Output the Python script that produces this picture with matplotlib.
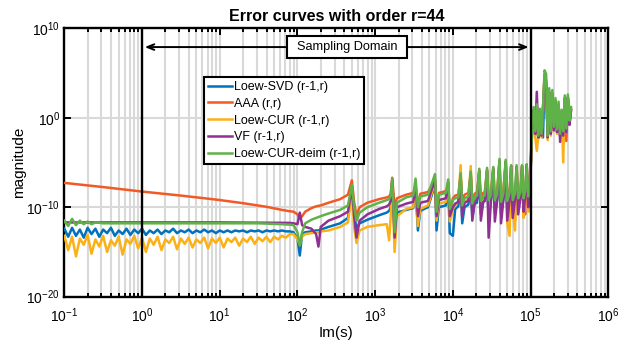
import numpy as np
import matplotlib.pyplot as plt
from matplotlib.patches import Rectangle
from matplotlib.ticker import LogLocator, NullLocator, NullFormatter

plt.rcParams['font.family'] = ['Liberation Sans', 'DejaVu Sans']

# all curves are given as log10(Im(s)) and log10(magnitude)

# low band, noisy part of Loew-SVD and Loew-CUR
noisy_lf = [-1.00, -0.95, -0.90, -0.85, -0.80, -0.75, -0.70, -0.65, -0.60, -0.55,
            -0.50, -0.45, -0.40, -0.35, -0.30, -0.25, -0.20, -0.15, -0.10, -0.05,
            0.00, 0.05, 0.10, 0.15, 0.20, 0.25, 0.30, 0.35, 0.40, 0.45,
            0.50, 0.55, 0.60, 0.65, 0.70, 0.75, 0.80, 0.85, 0.90, 0.95,
            1.00, 1.05, 1.10, 1.15, 1.20, 1.25, 1.30, 1.35, 1.40, 1.45,
            1.50, 1.55, 1.60, 1.65, 1.70, 1.75, 1.80, 1.85, 1.90]
svd_low = [-12.4, -13.3, -12.3, -13.2, -12.5, -13.4, -12.3, -13.0, -12.4, -13.3,
           -12.5, -12.9, -12.3, -13.2, -12.6, -13.0, -12.4, -13.1, -12.5, -12.9,
           -12.4, -13.1, -12.6, -12.9, -12.5, -13.0, -12.6, -12.8, -12.4, -12.9,
           -12.6, -12.8, -12.5, -12.9, -12.6, -12.8, -12.5, -12.8, -12.6, -12.9,
           -12.6, -12.8, -12.6, -12.8, -12.6, -12.7, -12.6, -12.8, -12.6, -12.7,
           -12.6, -12.8, -12.6, -12.7, -12.6, -12.7, -12.6, -12.7, -12.7]
cur_low = [-13.2, -14.8, -13.3, -15.5, -13.5, -14.2, -13.1, -15.2, -13.6, -14.4,
           -13.2, -15.0, -13.7, -14.3, -13.3, -15.3, -13.6, -14.1, -13.2, -14.6,
           -13.4, -15.0, -13.5, -14.2, -13.3, -14.8, -13.6, -14.0, -13.3, -14.7,
           -13.5, -14.1, -13.4, -14.5, -13.6, -14.0, -13.4, -14.6, -13.5, -14.0,
           -13.4, -14.5, -13.5, -13.9, -13.4, -14.3, -13.5, -13.9, -13.3, -14.1,
           -13.4, -13.8, -13.3, -13.9, -13.3, -13.6, -13.2, -13.4, -13.0]

# low band, smooth curves
aaa_low_lf = [-1.0, -0.5, 0.0, 0.5, 0.875, 1.0, 1.3, 1.6, 1.8, 1.9]
aaa_low = [-7.28, -7.75, -8.25, -8.7, -9.07, -9.2, -9.55, -9.95, -10.3, -10.45]
vf_low_lf = [-1.0, 0.0, 1.0, 1.9]
vf_low = [-11.7, -11.7, -11.7, -11.75]
deim_low_lf = [-1.0, -0.95, -0.9, -0.85, -0.8, -0.75, -0.7, -0.65, -0.6, -0.5,
               0.0, 1.0, 1.5, 1.8, 1.9]
deim_low = [-11.5, -12.1, -11.3, -12.0, -11.5, -11.9, -11.6, -11.9, -11.7, -11.8,
            -11.8, -11.8, -11.8, -11.9, -11.95]

# resonance part, shared grid
mid_lf = [1.95, 2.00, 2.03, 2.06, 2.10, 2.18, 2.24, 2.27, 2.30, 2.40,
          2.55, 2.65, 2.70, 2.73, 2.76, 2.80, 2.90, 3.05, 3.15, 3.18,
          3.20, 3.22, 3.25, 3.28, 3.40, 3.49, 3.52, 3.55, 3.58, 3.68,
          3.77, 3.79, 3.82, 3.91, 3.94, 3.96, 4.00, 4.03, 4.07, 4.10,
          4.12, 4.15, 4.20, 4.23, 4.25, 4.28, 4.31, 4.34, 4.36, 4.39,
          4.41, 4.44, 4.46, 4.49, 4.52, 4.54, 4.57, 4.60, 4.62, 4.65,
          4.68, 4.70, 4.73, 4.75, 4.77, 4.80, 4.82, 4.84, 4.87, 4.89,
          4.91, 4.93, 4.95, 4.97, 4.99]
svd_mid = [-12.8, -13.5, -15.4, -13.0, -12.8, -12.7, -12.6, -12.6, -12.5, -12.2,
           -11.8, -11.2, -8.0, -11.0, -12.3, -11.8, -11.4, -10.9, -10.6, -10.4,
           -10.0, -7.2, -11.5, -10.6, -10.3, -10.1, -8.0, -12.6, -10.4, -10.0,
           -7.5, -12.6, -10.0, -9.8, -7.6, -12.9, -13.2, -10.2, -9.9, -7.5,
           -11.8, -10.0, -9.7, -7.3, -11.2, -9.6, -9.5, -7.0, -10.8, -9.4,
           -9.3, -6.8, -11.0, -9.2, -6.7, -10.6, -9.1, -6.2, -10.8, -9.0,
           -6.0, -10.4, -9.0, -6.4, -10.2, -9.0, -6.6, -10.0, -8.9, -6.4,
           -9.8, -8.8, -6.4, -9.4, -8.5]
aaa_mid = [-10.5, -10.8, -11.3, -11.0, -10.5, -10.1, -9.9, -9.85, -9.8, -9.5,
           -9.1, -8.6, -7.0, -9.5, -10.9, -10.0, -9.5, -9.1, -8.9, -8.8,
           -8.5, -6.7, -10.0, -9.0, -8.6, -8.4, -7.8, -9.8, -8.5, -8.3,
           -7.0, -10.8, -8.4, -8.2, -7.6, -10.8, -9.0, -8.7, -8.6, -6.6,
           -9.5, -8.6, -8.4, -6.3, -9.8, -8.5, -8.3, -6.0, -9.2, -8.4,
           -8.3, -5.9, -9.0, -8.3, -5.7, -9.0, -8.2, -4.8, -10.5, -8.1,
           -4.9, -9.1, -8.1, -5.4, -9.0, -11.5, -5.5, -9.0, -8.1, -5.4,
           -9.0, -10.8, -5.2, -8.8, -7.8]
cur_mid = [-13.0, -13.6, -14.2, -13.3, -13.0, -12.9, -12.8, -12.8, -12.7, -12.6,
           -12.2, -11.7, -8.3, -12.3, -14.0, -12.6, -12.2, -12.0, -11.9, -13.7,
           -11.0, -7.5, -15.0, -11.0, -10.2, -10.0, -8.0, -12.1, -10.2, -9.8,
           -7.2, -11.5, -9.6, -9.4, -7.3, -11.6, -10.2, -9.8, -9.3, -5.3,
           -10.5, -9.4, -9.1, -5.4, -10.2, -9.0, -8.8, -5.9, -9.8, -8.9,
           -8.8, -5.8, -10.2, -8.7, -5.6, -10.0, -8.6, -4.9, -9.6, -8.5,
           -5.0, -11.8, -13.2, -5.4, -10.5, -12.6, -5.6, -9.8, -8.5, -5.5,
           -11.2, -8.5, -5.4, -10.5, -8.2]
vf_mid = [-11.8, -11.9, -10.6, -12.0, -12.2, -12.4, -13.0, -14.4, -12.2, -11.5,
          -11.0, -10.5, -7.8, -11.0, -13.4, -11.5, -10.8, -10.2, -9.9, -9.7,
          -9.3, -7.0, -13.4, -10.0, -9.6, -9.4, -7.5, -11.0, -9.5, -9.3,
          -6.9, -11.0, -9.2, -9.0, -7.2, -11.0, -10.0, -9.6, -9.4, -6.5,
          -11.0, -9.5, -9.3, -6.2, -11.5, -9.3, -9.2, -5.9, -11.5, -9.4,
          -9.3, -5.9, -13.4, -9.3, -5.7, -11.6, -9.3, -4.9, -11.8, -9.2,
          -4.9, -11.5, -9.2, -5.4, -11.2, -9.1, -5.5, -10.8, -9.0, -5.4,
          -10.5, -8.9, -5.3, -10.0, -8.5]
deim_mid = [-12.0, -12.8, -14.3, -12.8, -11.8, -11.4, -11.2, -11.1, -11.0, -10.7,
            -10.3, -9.8, -7.5, -10.0, -11.5, -10.6, -10.0, -9.5, -9.2, -9.1,
            -8.7, -6.8, -12.8, -9.5, -8.9, -8.7, -6.8, -10.0, -8.8, -8.6,
            -6.3, -10.5, -8.6, -8.4, -6.9, -10.2, -9.2, -9.0, -8.9, -6.2,
            -9.8, -9.0, -8.8, -6.0, -9.6, -8.9, -8.7, -5.7, -9.3, -8.8,
            -8.7, -5.6, -9.2, -8.6, -5.5, -9.2, -8.5, -4.6, -9.4, -8.4,
            -4.7, -9.3, -8.4, -5.3, -9.2, -8.4, -5.3, -9.0, -8.3, -5.3,
            -9.0, -8.2, -5.3, -8.8, -8.0]

# outside the sampling domain
high_lf = [5.00, 5.02, 5.04, 5.06, 5.08, 5.10, 5.12, 5.14, 5.16, 5.18,
           5.20, 5.22, 5.24, 5.26, 5.28, 5.30, 5.32, 5.34, 5.36, 5.38,
           5.40, 5.42, 5.44, 5.46, 5.48, 5.50, 5.52]
svd_high = [-6.2, -1.4, 0.7, -2.0, 1.1, -2.2, 0.7, -2.0, -2.2, 4.6,
            4.0, -2.2, 2.8, -1.8, 2.6, -1.3, 1.8, -1.6, 1.4, -2.0,
            0.6, -1.8, 2.1, -1.4, 2.2, -0.7, 0.9]
aaa_high = [-5.8, -1.2, 0.9, -1.9, 1.2, -2.3, 0.8, -2.0, 1.0, 4.8,
            4.2, -2.2, 2.9, -1.7, 2.7, -1.2, 1.9, -1.5, 1.5, -2.0,
            0.7, -1.8, 2.2, -2.6, 2.3, -0.6, 1.0]
cur_high = [-6.0, -1.5, 0.5, -2.2, -3.7, -2.0, 0.6, -2.2, 0.9, 4.6,
            4.0, -2.5, 2.7, -2.0, 2.5, -1.5, 1.6, -1.8, 1.2, -2.0,
            0.5, -5.0, 2.0, -1.5, 2.0, -0.8, 0.8]
vf_high = [-5.8, -0.5, 0.8, -1.8, 2.9, -2.2, 0.8, -2.0, 1.0, 4.5,
           3.8, -2.2, 2.8, -1.8, 2.6, -1.4, 1.8, -1.6, 1.4, -2.7,
           0.6, -2.0, 2.1, -1.6, 2.2, -0.8, 0.8]
deim_high = [-5.5, -1.0, 1.2, -1.5, 1.5, -2.0, 1.0, -1.8, 1.3, 5.3,
             4.9, -2.0, 3.3, -1.5, 3.1, -1.0, 2.2, -1.3, 1.8, -1.8,
             0.9, -1.5, 2.5, -1.2, 2.6, -0.3, 1.2]

labels = ['Loew-SVD (r-1,r)', 'AAA (r,r)', 'Loew-CUR (r-1,r)', 'VF (r-1,r)',
          'Loew-CUR-deim (r-1,r)']
colors = ['#0072bd', '#f15a24', '#fbb116', '#8e3192', '#5fb248']
xticks = [1e-1, 1e0, 1e1, 1e2, 1e3, 1e4, 1e5, 1e6]
yticks = [1e-20, 1e-10, 1e0, 1e10]

series = [
    (noisy_lf, svd_low, svd_mid, svd_high),
    (aaa_low_lf, aaa_low, aaa_mid, aaa_high),
    (noisy_lf, cur_low, cur_mid, cur_high),
    (vf_low_lf, vf_low, vf_mid, vf_high),
    (deim_low_lf, deim_low, deim_mid, deim_high),
]

fig = plt.figure(figsize=(6.19, 3.47), dpi=100)
ax = fig.add_axes([0.1039, 0.1450, 0.8788, 0.7735])

for (low_lf, low, mid, high), c, lab in zip(series, colors, labels):
    lf = np.array(low_lf + mid_lf + high_lf)
    lm = np.array(low + mid + high)
    ax.plot(10 ** lf, 10 ** lm, color=c, lw=1.8, label=lab, zorder=3)

ax.set_xscale('log')
ax.set_yscale('log')
ax.set_xlim(1e-1, 1e6)
ax.set_ylim(1e-20, 1e10)
ax.set_xticks(xticks)
ax.set_yticks(yticks)
ax.yaxis.set_minor_locator(NullLocator())
ax.xaxis.set_minor_locator(LogLocator(base=10, subs=np.arange(2, 10), numticks=20))
ax.xaxis.set_minor_formatter(NullFormatter())

ax.grid(True, which='both', color='#d9d9d9', lw=1.5, zorder=0)
ax.set_axisbelow(True)
ax.tick_params(which='both', direction='in', top=True, right=True, width=1.4,
               labelsize=10, colors='black')
ax.tick_params(which='major', length=5)
ax.tick_params(which='minor', length=3)
ax.tick_params(axis='x', which='major', pad=7)
ax.tick_params(axis='y', which='major', pad=3)
for sp in ax.spines.values():
    sp.set_linewidth(1.7)

# sampling domain limits
ax.axvline(1e0, color='black', lw=1.7, zorder=4)
ax.axvline(1e5, color='black', lw=1.7, zorder=4)

ya = 10 ** 7.9
ax.add_patch(Rectangle((10 ** 1.866, 10 ** 6.64), 10 ** 3.41 - 10 ** 1.866,
                       10 ** 9.10 - 10 ** 6.64, fc='white', ec='black', lw=1.5,
                       zorder=5))
ax.text(10 ** 2.64, ya, 'Sampling Domain', ha='center', va='center',
        fontsize=9.2, zorder=6)
ax.annotate('', xy=(10 ** 0.035, ya), xytext=(10 ** 1.866, ya), zorder=5,
            arrowprops=dict(arrowstyle='->,head_length=0.5,head_width=0.2',
                            lw=1.4, color='black', shrinkA=0, shrinkB=0))
ax.annotate('', xy=(10 ** 4.975, ya), xytext=(10 ** 3.41, ya), zorder=5,
            arrowprops=dict(arrowstyle='->,head_length=0.5,head_width=0.2',
                            lw=1.4, color='black', shrinkA=0, shrinkB=0))

ax.set_title('Error curves with order r=44', fontsize=11.5, fontweight='bold', pad=5)
ax.set_xlabel('Im(s)', fontsize=11, labelpad=1)
ax.set_ylabel('magnitude', fontsize=11, labelpad=0)

leg = ax.legend(loc='upper left', bbox_to_anchor=(0.3296, 0.7772),
                bbox_transform=fig.transFigure, borderaxespad=0, fontsize=9,
                fancybox=False, edgecolor='black', framealpha=1,
                handlelength=1.9, handletextpad=0.2, labelspacing=0.38,
                borderpad=0.3)
leg.get_frame().set_linewidth(1.5)
leg.set_zorder(7)

fig.savefig('out.png', dpi=100)
